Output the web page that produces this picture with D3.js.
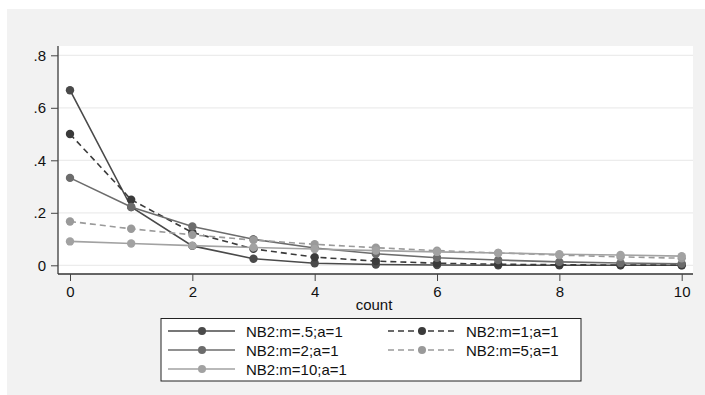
<!DOCTYPE html>
<html>
<head>
<meta charset="utf-8">
<script src="https://cdn.jsdelivr.net/npm/d3@7"></script>
<style>
  body { margin: 0; background: #fff; }
  text { font-family: "Liberation Sans", Arial, sans-serif; }
</style>
</head>
<body>
<div id="chart"></div>
<script>
// counts on the x axis
const counts = [0, 1, 2, 3, 4, 5, 6, 7, 8, 9, 10];

// probabilities
const nbM05 = [0.667, 0.222, 0.074, 0.025, 0.008, 0.003, 0.001, 0.0003, 0.0001, 0.00003, 0.00001];
const nbM1  = [0.5, 0.25, 0.125, 0.0625, 0.031, 0.016, 0.008, 0.004, 0.002, 0.001, 0.0005];
const nbM2  = [0.333, 0.222, 0.148, 0.099, 0.066, 0.044, 0.029, 0.020, 0.013, 0.009, 0.006];
const nbM5  = [0.167, 0.139, 0.116, 0.096, 0.080, 0.067, 0.056, 0.047, 0.039, 0.032, 0.027];
const nbM10 = [0.091, 0.083, 0.075, 0.068, 0.062, 0.056, 0.051, 0.047, 0.042, 0.039, 0.035];

const seriesNames = ["NB2:m=.5;a=1", "NB2:m=1;a=1", "NB2:m=2;a=1", "NB2:m=5;a=1", "NB2:m=10;a=1"];
const seriesValues = [nbM05, nbM1, nbM2, nbM5, nbM10];

const xTicks = [0, 2, 4, 6, 8, 10];
const yTicks = [0, 0.2, 0.4, 0.6, 0.8];

// styles per series
const colors = ["#4a4a4a", "#3a3a3a", "#6c6c6c", "#9a9a9a", "#a2a2a2"];
const dashes = [null, "6,4", null, "6,4", null];

const width = 705, height = 395;
const svg = d3.select("#chart").append("svg")
  .attr("width", width).attr("height", height);

// outer graph region
svg.append("rect").attr("x", 7).attr("y", 9)
  .attr("width", width - 7).attr("height", height - 9)
  .attr("fill", "#f2f2f2");

// plot region
const plot = { left: 58, top: 46, right: 693, bottom: 274 };
svg.append("rect").attr("x", plot.left).attr("y", plot.top)
  .attr("width", plot.right - plot.left).attr("height", plot.bottom - plot.top)
  .attr("fill", "#fff");

const x = d3.scaleLinear().domain([0, 10]).range([70, 681.7]);
const y = d3.scaleLinear().domain([0, 0.8]).range([265.3, 55.3]);

// gridlines
svg.append("g").selectAll("line").data(yTicks).enter().append("line")
  .attr("x1", plot.left).attr("x2", plot.right)
  .attr("y1", d => y(d)).attr("y2", d => y(d))
  .attr("stroke", "#ececec").attr("stroke-width", 1.2);

const fmtY = d => d === 0 ? "0" : d3.format(".1f")(d).replace(/^0/, "");

// y axis
const yAxis = svg.append("g").attr("transform", "translate(" + plot.left + ",0)")
  .call(d3.axisLeft(y).tickValues(yTicks).tickFormat(fmtY).tickSize(7).tickPadding(5).tickSizeOuter(0));
yAxis.select(".domain").attr("d", "M0," + plot.top + "V" + plot.bottom)
  .attr("stroke", "#555").attr("stroke-width", 1.5);

// x axis
const xAxis = svg.append("g").attr("transform", "translate(0," + plot.bottom + ")")
  .call(d3.axisBottom(x).tickValues(xTicks).tickFormat(d3.format("d")).tickSize(7).tickPadding(5).tickSizeOuter(0));
xAxis.select(".domain").attr("d", "M" + plot.left + ",0H" + plot.right)
  .attr("stroke", "#333").attr("stroke-width", 1.5);

svg.selectAll(".tick line").attr("stroke", "#444").attr("stroke-width", 1);
svg.selectAll(".tick text").attr("font-size", 15).attr("fill", "#111")
  .style("font-family", '"Liberation Sans", Arial, sans-serif');

// axis title
svg.append("text").attr("x", 374).attr("y", 310)
  .attr("text-anchor", "middle").attr("font-size", 15).attr("fill", "#111")
  .text("count");

// lines and markers
const line = d3.line().x((d, i) => x(counts[i])).y(d => y(d));
seriesValues.forEach((vals, s) => {
  const g = svg.append("g");
  g.append("path").datum(vals).attr("d", line)
    .attr("fill", "none").attr("stroke", colors[s]).attr("stroke-width", 1.6)
    .attr("stroke-dasharray", dashes[s]);
  g.selectAll("circle").data(vals).enter().append("circle")
    .attr("cx", (d, i) => x(counts[i])).attr("cy", d => y(d))
    .attr("r", 4.2).attr("fill", colors[s]);
});

// legend
const legend = svg.append("g");
legend.append("rect").attr("x", 161).attr("y", 318.5)
  .attr("width", 420).attr("height", 62.5)
  .attr("fill", "#fff").attr("stroke", "#222").attr("stroke-width", 1);

const colX = [168, 388];
const rowY = [331, 350, 369];
seriesNames.forEach((name, s) => {
  const cx = colX[s % 2], cy = rowY[Math.floor(s / 2)];
  legend.append("line").attr("x1", cx).attr("x2", cx + 67)
    .attr("y1", cy).attr("y2", cy)
    .attr("stroke", colors[s]).attr("stroke-width", 1.6)
    .attr("stroke-dasharray", dashes[s]);
  legend.append("circle").attr("cx", cx + 34).attr("cy", cy).attr("r", 4)
    .attr("fill", colors[s]);
  legend.append("text").attr("x", cx + 78).attr("y", cy + 5.5)
    .attr("font-size", 15).attr("fill", "#111").text(name);
});
</script>
</body>
</html>
